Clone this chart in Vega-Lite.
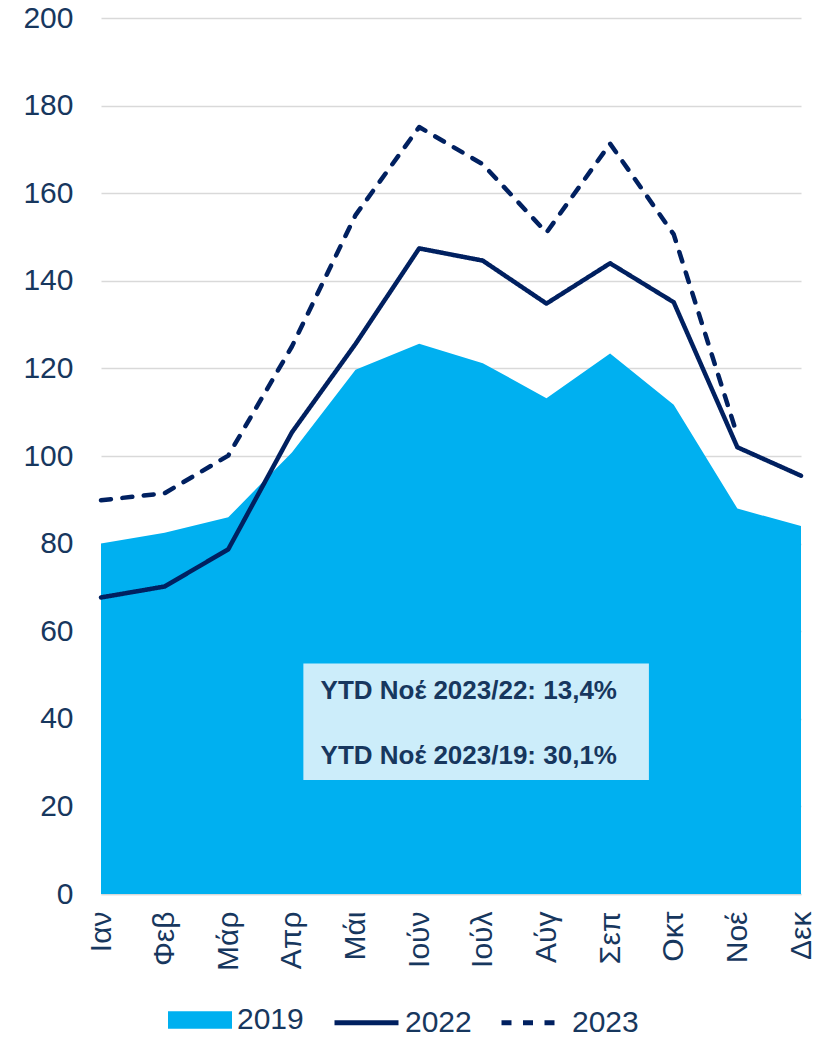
{
  "$schema": "https://vega.github.io/schema/vega-lite/v6.json",
  "width": 700,
  "height": 876,
  "padding": {"left": 22, "top": 3, "right": 2, "bottom": 0},
  "background": "white",
  "config": {"view": {"stroke": null}, "font": "Liberation Sans"},
  "datasets": {
    "traffic": [
      {"month": "Ιαν", "year": "2019", "value": 80.0},
      {"month": "Φεβ", "year": "2019", "value": 82.5},
      {"month": "Μάρ", "year": "2019", "value": 86.0},
      {"month": "Απρ", "year": "2019", "value": 100.8},
      {"month": "Μάι", "year": "2019", "value": 119.7},
      {"month": "Ιούν", "year": "2019", "value": 125.6},
      {"month": "Ιούλ", "year": "2019", "value": 121.2},
      {"month": "Αύγ", "year": "2019", "value": 113.2},
      {"month": "Σεπ", "year": "2019", "value": 123.4},
      {"month": "Οκτ", "year": "2019", "value": 111.7},
      {"month": "Νοέ", "year": "2019", "value": 88.0},
      {"month": "Δεκ", "year": "2019", "value": 84.0},
      {"month": "Ιαν", "year": "2022", "value": 67.7},
      {"month": "Φεβ", "year": "2022", "value": 70.2},
      {"month": "Μάρ", "year": "2022", "value": 78.7},
      {"month": "Απρ", "year": "2022", "value": 105.4},
      {"month": "Μάι", "year": "2022", "value": 125.6},
      {"month": "Ιούν", "year": "2022", "value": 147.4},
      {"month": "Ιούλ", "year": "2022", "value": 144.6},
      {"month": "Αύγ", "year": "2022", "value": 134.8},
      {"month": "Σεπ", "year": "2022", "value": 144.0},
      {"month": "Οκτ", "year": "2022", "value": 135.1},
      {"month": "Νοέ", "year": "2022", "value": 102.0},
      {"month": "Δεκ", "year": "2022", "value": 95.5},
      {"month": "Ιαν", "year": "2023", "value": 89.9},
      {"month": "Φεβ", "year": "2023", "value": 91.5},
      {"month": "Μάρ", "year": "2023", "value": 100.1},
      {"month": "Απρ", "year": "2023", "value": 125.0},
      {"month": "Μάι", "year": "2023", "value": 155.0},
      {"month": "Ιούν", "year": "2023", "value": 175.1},
      {"month": "Ιούλ", "year": "2023", "value": 166.6},
      {"month": "Αύγ", "year": "2023", "value": 151.0},
      {"month": "Σεπ", "year": "2023", "value": 171.3},
      {"month": "Οκτ", "year": "2023", "value": 150.6},
      {"month": "Νοέ", "year": "2023", "value": 104.7}
    ],
    "notes": [
      {"line": "YTD Νοέ 2023/22: 13,4%", "pos": 46.3},
      {"line": "YTD Νοέ 2023/19: 30,1%", "pos": 31.5}
    ]
  },
  "layer": [
    {
      "layer": [
        {
          "data": {"name": "traffic"},
          "transform": [{"filter": "datum.year === '2019'"}],
          "mark": {"type": "area", "opacity": 1},
          "encoding": {
            "x": {
              "field": "month", "type": "ordinal",
              "sort": ["Ιαν", "Φεβ", "Μάρ", "Απρ", "Μάι", "Ιούν", "Ιούλ", "Αύγ", "Σεπ", "Οκτ", "Νοέ", "Δεκ"],
              "scale": {"type": "point", "padding": 0},
              "axis": {
                "title": null, "labelAngle": -90, "labelFontSize": 30, "labelColor": "#17375e",
                "labelFont": "Liberation Sans", "labelPadding": 17, "ticks": false, "grid": false,
                "domain": true, "domainColor": "#d9d9d9", "domainWidth": 1.5
              }
            },
            "y": {
              "field": "value", "type": "quantitative",
              "scale": {"domain": [0, 200], "nice": false},
              "axis": {
                "title": null, "values": [0, 20, 40, 60, 80, 100, 120, 140, 160, 180, 200],
                "grid": true, "gridColor": "#d9d9d9", "gridWidth": 1.5, "domain": false, "ticks": false,
                "labelFontSize": 30, "labelColor": "#17375e", "labelFont": "Liberation Sans", "labelPadding": 28
              }
            },
            "fill": {
              "field": "year", "type": "nominal",
              "scale": {"domain": ["2019"], "range": ["#00b0f0"]},
              "legend": {
                "orient": "none", "legendX": 67, "legendY": 970, "direction": "horizontal", "title": null,
                "symbolType": "M-1,-0.27H1V0.27H-1Z", "symbolSize": 4096, "symbolStrokeWidth": 0, "symbolOpacity": 1,
                "labelFontSize": 30, "labelColor": "#17375e", "labelFont": "Liberation Sans",
                "labelOffset": 5
              }
            }
          }
        },
        {
          "data": {"name": "traffic"},
          "transform": [{"filter": "datum.year !== '2019'"}],
          "mark": {"type": "line", "color": "#002060", "strokeWidth": 4.5, "strokeCap": "round", "strokeJoin": "round"},
          "encoding": {
            "x": {
              "field": "month", "type": "ordinal",
              "sort": ["Ιαν", "Φεβ", "Μάρ", "Απρ", "Μάι", "Ιούν", "Ιούλ", "Αύγ", "Σεπ", "Οκτ", "Νοέ", "Δεκ"]
            },
            "y": {"field": "value", "type": "quantitative"},
            "strokeDash": {
              "field": "year", "type": "nominal",
              "scale": {"domain": ["2022", "2023"], "range": [[1, 0], [10, 11.5]]},
              "legend": {
                "orient": "none", "legendX": 231, "legendY": 970, "direction": "horizontal", "title": null,
                "symbolType": "stroke", "symbolSize": 4096, "symbolStrokeWidth": 5, "symbolStrokeColor": "#002060",
                "symbolOpacity": 1,
                "labelFontSize": 30, "labelColor": "#17375e", "labelFont": "Liberation Sans",
                "labelOffset": 4, "columnPadding": 19
              }
            }
          }
        }
      ]
    },
    {
      "layer": [
        {
          "data": {"values": [{"box": "note"}]},
          "mark": {"type": "rect", "color": "#ccedfa"},
          "encoding": {
            "x": {"datum": 3.18, "type": "quantitative", "scale": {"domain": [0, 11], "nice": false, "zero": false}, "axis": null},
            "x2": {"datum": 8.61},
            "y": {"datum": 52.6, "type": "quantitative"},
            "y2": {"datum": 26.0}
          }
        },
        {
          "data": {"name": "notes"},
          "mark": {"type": "text", "align": "left", "baseline": "middle", "fontSize": 26, "fontWeight": "bold", "color": "#17375e", "font": "Liberation Sans"},
          "encoding": {
            "x": {"datum": 3.45, "type": "quantitative"},
            "y": {"field": "pos", "type": "quantitative"},
            "text": {"field": "line"}
          }
        }
      ]
    }
  ],
  "resolve": {"scale": {"x": "independent"}}
}
